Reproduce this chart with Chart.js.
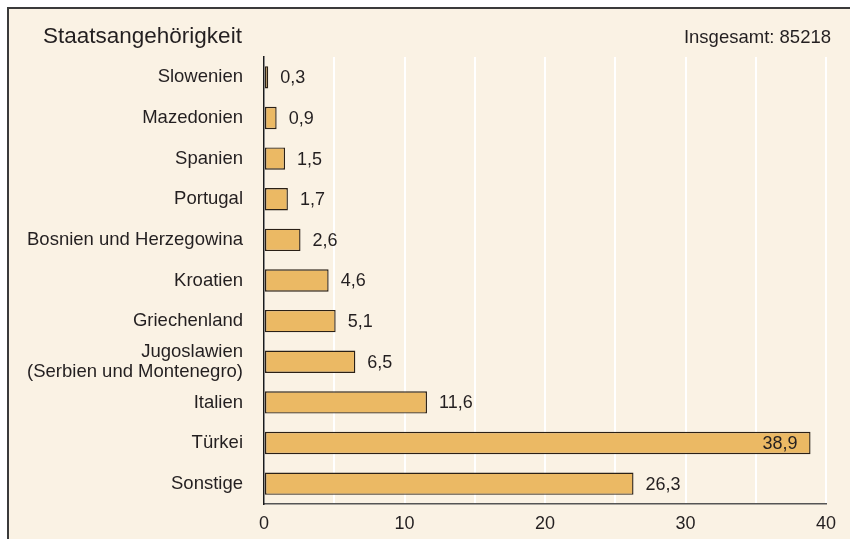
<!DOCTYPE html>
<html>
<head>
<meta charset="utf-8">
<script src="https://cdn.jsdelivr.net/npm/chart.js@4/dist/chart.umd.min.js"></script>
<style>
  html, body { margin: 0; padding: 0; background: #fff; }
  #wrap { width: 850px; height: 539px; }
</style>
</head>
<body>
<div id="wrap"><canvas id="chart1" width="850" height="539"></canvas></div>
<script>
// Anteile in Prozent
const countries = [
  'Slowenien', 'Mazedonien', 'Spanien', 'Portugal', 'Bosnien und Herzegowina',
  'Kroatien', 'Griechenland', ['Jugoslawien', '(Serbien und Montenegro)'],
  'Italien', 'Türkei', 'Sonstige'
];
const shares = [0.3, 0.9, 1.5, 1.7, 2.6, 4.6, 5.1, 6.5, 11.6, 38.9, 26.3];
const xTicks = [0, 10, 20, 30, 40];
const chartTitle = 'Staatsangehörigkeit';
const totalText = 'Insgesamt: 85218';

const txtColor = '#231f20';
const fontFam = '"Liberation Sans", Arial, Helvetica, sans-serif';

function fmt(v) {
  return String(v).replace('.', ',');
}

// background, frame and header texts
const framePlugin = {
  id: 'frame',
  beforeDraw(chart) {
    const c = chart.ctx;
    c.save();
    c.fillStyle = '#faf2e4';
    c.fillRect(7, 7, chart.width - 7, chart.height - 7);
    c.fillStyle = '#3a3a3a';
    c.fillRect(7, 7, chart.width - 7, 2);
    c.fillRect(7, 7, 2, chart.height - 7);
    c.restore();
  },
  afterDraw(chart) {
    const c = chart.ctx;
    c.save();
    c.fillStyle = txtColor;
    c.textBaseline = 'alphabetic';
    c.font = '22.5px ' + fontFam;
    c.textAlign = 'left';
    c.fillText(chartTitle, 43, 43);
    c.font = '18.5px ' + fontFam;
    c.textAlign = 'right';
    c.fillText(totalText, 831, 43);
    c.restore();
  }
};

// value labels next to / inside the bars
const valuePlugin = {
  id: 'values',
  afterDatasetsDraw(chart) {
    const c = chart.ctx;
    const meta = chart.getDatasetMeta(0);
    c.save();
    c.font = '18px ' + fontFam;
    c.fillStyle = txtColor;
    c.textBaseline = 'middle';
    meta.data.forEach((bar, i) => {
      const v = shares[i];
      if (v > 35) {
        c.textAlign = 'right';
        c.fillText(fmt(v), bar.x - 13, bar.y + 1);
      } else {
        c.textAlign = 'left';
        c.fillText(fmt(v), bar.x + 12, bar.y + 1);
      }
    });
    c.restore();
  }
};

const ctx = document.getElementById('chart1');
const chart1 = new Chart(ctx, {
  type: 'bar',
  data: {
    labels: countries,
    datasets: [{
      data: shares,
      backgroundColor: '#ebb964',
      borderColor: '#2a2016',
      borderWidth: 1.4,
      borderSkipped: false,
      barPercentage: 0.55,
      categoryPercentage: 1.0
    }]
  },
  options: {
    indexAxis: 'y',
    responsive: false,
    animation: false,
    layout: { padding: { left: 0, top: 57, right: 24, bottom: 0 } },
    plugins: {
      legend: { display: false },
      tooltip: { enabled: false }
    },
    scales: {
      x: {
        min: 0,
        max: 40,
        afterFit(scale) { scale.height = 35; },
        afterBuildTicks(scale) {
          const t = [];
          for (let v = 0; v <= 40; v += 5) t.push({ value: v });
          scale.ticks = t;
        },
        ticks: {
          autoSkip: false,
          maxRotation: 0,
          padding: 9,
          color: txtColor,
          font: { family: fontFam, size: 18 },
          callback: (v) => xTicks.includes(v) ? v : ''
        },
        grid: {
          color: '#ffffff',
          lineWidth: 2,
          drawTicks: false
        },
        border: { color: '#555555', width: 1.5 }
      },
      y: {
        afterFit(scale) { scale.width = 264; },
        ticks: {
          autoSkip: false,
          padding: 21,
          color: txtColor,
          font: { family: fontFam, size: 18.5, lineHeight: 1.05 }
        },
        grid: { display: false, drawTicks: false },
        border: { color: '#1a1a1a', width: 1.5 }
      }
    }
  },
  plugins: [framePlugin, valuePlugin]
});
</script>
</body>
</html>
